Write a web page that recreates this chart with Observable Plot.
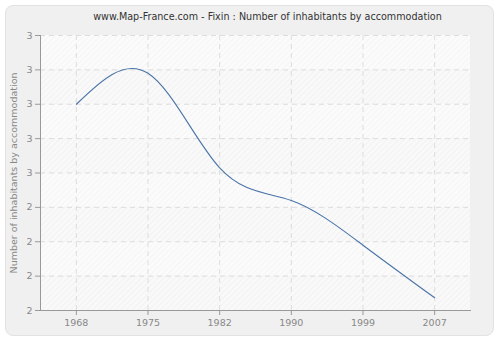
<!DOCTYPE html>
<html><head><meta charset="utf-8">
<script src="https://cdn.jsdelivr.net/npm/d3@7"></script>
<script src="https://cdn.jsdelivr.net/npm/@observablehq/plot@0.6"></script>
<style>
body{margin:0;background:#fff;}
#wrap{position:relative;width:500px;height:340px;overflow:hidden;font-family:"DejaVu Sans",sans-serif;}
#panel{position:absolute;left:5px;top:5px;width:487px;height:329px;background:#f0f0f0;border:1px solid #e2e2e2;border-radius:8px;}
#title{position:absolute;top:11px;left:0;width:535px;text-align:center;font-size:9.6px;color:#333;}
#chart{position:absolute;left:0;top:0;}
</style></head>
<body><div id="wrap"><div id="panel"></div><div id="title">www.Map-France.com - Fixin : Number of inhabitants by accommodation</div><div id="chart"></div></div>
<script>
const years = ["1968","1975","1982","1990","1999","2007"];
const values = [2.70, 2.79, 2.515, 2.42, 2.29, 2.137];
const yTicks = [2.1,2.2,2.3,2.4,2.5,2.6,2.7,2.8,2.9];
const yLabel = "Number of inhabitants by accommodation";

const data = years.map((y,i)=>({year:y, value:values[i]}));
const bands = yTicks.slice(0,-1).map((t,i)=>({y1:t,y2:yTicks[i+1],k:i%2}));

const plot = Plot.plot({
  width:500, height:340,
  marginLeft:40, marginRight:30, marginTop:35, marginBottom:30,
  style:{background:"transparent", fontFamily:"DejaVu Sans, sans-serif", fontSize:"9.5px", color:"#888"},
  x:{type:"point", domain:years, padding:0.5, round:false, label:null},
  y:{domain:[2.1,2.9], label:yLabel},
  marks:[
    Plot.rect(bands,{y1:"y1", y2:"y2", fill:d=>d.k? "url(#hatchA)":"url(#hatchB)"}),
    Plot.gridX(years,{stroke:"#ddd", strokeOpacity:1, strokeDasharray:"5,4"}),
    Plot.gridY(yTicks,{stroke:"#ddd", strokeOpacity:1, strokeDasharray:"5,4"}),
    Plot.axisX(years,{tickSize:5, tickPadding:4, stroke:"#999", label:null}),
    Plot.axisY(yTicks,{tickFormat:d=>String(Math.round(d)), tickSize:5, tickPadding:3, stroke:"#999", label:yLabel, labelAnchor:"center", labelArrow:"none", labelOffset:30}),
    Plot.frame({anchor:"left", stroke:"#999"}),
    Plot.frame({anchor:"bottom", stroke:"#999"}),
    Plot.line(data,{x:"year", y:"value", curve:"natural", stroke:"#4a74a8", strokeWidth:1.1})
  ]
});
const svg = d3.select(plot);
const defs = svg.insert("defs",":first-child");
function hatch(id,bg,fg){
  const p = defs.append("pattern").attr("id",id).attr("patternUnits","userSpaceOnUse").attr("width",4).attr("height",4).attr("patternTransform","rotate(45)");
  p.append("rect").attr("width",4).attr("height",4).attr("fill",bg);
  p.append("line").attr("x1",0).attr("y1",0).attr("x2",0).attr("y2",4).attr("stroke",fg).attr("stroke-width",1);
}
hatch("hatchA","#fbfbfb","#f0f0f0");
hatch("hatchB","#f9f9f9","#ececec");
document.getElementById("chart").appendChild(plot);
</script></body></html>
